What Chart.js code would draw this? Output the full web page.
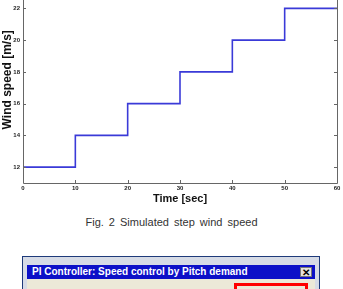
<!DOCTYPE html>
<html><head><meta charset="utf-8">
<script src="https://cdn.jsdelivr.net/npm/chart.js@4/dist/chart.umd.min.js"></script>
<style>
html,body{margin:0;padding:0;background:#fff;width:343px;height:289px;overflow:hidden;position:relative;font-family:"Liberation Sans",Arial,sans-serif;}
#wrap{position:absolute;left:0;top:-30px;width:343px;height:245px;}
#cap{position:absolute;left:0;width:343px;top:216px;text-align:center;font-size:11px;color:#333;word-spacing:2px;}
#win{position:absolute;left:22px;top:256px;width:298px;height:40px;background:#d6dbe6;border:1px solid #1e3a7a;box-sizing:border-box;}
#tb{position:absolute;left:4px;top:8px;width:288px;height:14px;background:#0c10c8;color:#fff;font:bold 10px "Liberation Sans",Arial,sans-serif;line-height:14px;padding-left:5px;box-sizing:border-box;white-space:nowrap;}
#xb{position:absolute;left:277px;top:10px;width:12px;height:10px;background:#e4e2dc;border:1px solid #777;box-sizing:border-box;font:bold 10px "Liberation Sans",Arial;line-height:9px;text-align:center;color:#000;}
#body{position:absolute;left:4px;top:22px;width:288px;height:20px;background:#ece9d8;}
#red{position:absolute;left:211px;top:26px;width:74px;height:20px;border:3px solid #f00;box-sizing:border-box;}
</style></head>
<body>
<div id="wrap"><canvas id="c"></canvas></div>
<div id="cap">Fig. 2 Simulated step wind speed</div>
<div id="win"><div id="tb">PI Controller: Speed control by Pitch demand</div><div id="xb">✕</div><div id="body"></div><div id="red"></div></div>
<script>
const times = [0, 10, 20, 30, 40, 50, 60];
const windSpeed = [12, 14, 16, 18, 20, 22, 22];
const xTicks = [0, 10, 20, 30, 40, 50, 60];
const yTicks = [12, 14, 16, 18, 20, 22];

const axisColor = '#666';
const framePlugin = {
  id: 'frame',
  afterDatasetsDraw(chart) {
    const {ctx, chartArea: a, scales} = chart;
    ctx.save();
    ctx.strokeStyle = axisColor;
    ctx.lineWidth = 1;
    ctx.beginPath();
    ctx.moveTo(a.left + 0.5, a.top); ctx.lineTo(a.left + 0.5, a.bottom + 0.5);
    ctx.lineTo(a.right + 0.5, a.bottom + 0.5); ctx.lineTo(a.right + 0.5, a.top);
    const tl = 3;
    xTicks.forEach(v => {
      const x = Math.round(scales.x.getPixelForValue(v)) + 0.5;
      ctx.moveTo(x, a.bottom); ctx.lineTo(x, a.bottom - tl);
      ctx.moveTo(x, a.top); ctx.lineTo(x, a.top + tl);
    });
    yTicks.forEach(v => {
      const y = Math.round(scales.y.getPixelForValue(v)) + 0.5;
      ctx.moveTo(a.left, y); ctx.lineTo(a.left + tl, y);
      ctx.moveTo(a.right, y); ctx.lineTo(a.right - tl, y);
    });
    ctx.stroke();
    ctx.restore();
  }
};

new Chart(document.getElementById('c'), {
  type: 'line',
  data: {
    datasets: [{
      data: times.map((t, i) => ({x: t, y: windSpeed[i]})),
      stepped: 'before',
      borderColor: '#3a3ad8',
      borderWidth: 1.6,
      pointRadius: 0,
      fill: false
    }]
  },
  options: {
    responsive: true,
    maintainAspectRatio: false,
    animation: false,
    layout: {padding: {left: 0, right: 6, top: 0, bottom: 0}},
    plugins: {legend: {display: false}, tooltip: {enabled: false}},
    scales: {
      x: {
        type: 'linear', min: 0, max: 60,
        afterBuildTicks: s => { s.ticks = xTicks.map(v => ({value: v})); },
        afterFit: s => { s.height = 32; },
        grid: {display: false, drawTicks: false},
        border: {display: false},
        ticks: {padding: 2, color: '#222', font: {family: 'Liberation Sans', size: 6, weight: 'bold'}, maxRotation: 0},
        title: {display: true, text: 'Time [sec]', color: '#111', padding: {top: 0, bottom: 9}, font: {family: 'Liberation Sans', size: 11, weight: 'bold'}}
      },
      y: {
        type: 'linear', min: 11, max: 24,
        afterBuildTicks: s => { s.ticks = yTicks.map(v => ({value: v})); },
        afterFit: s => { s.width = 23; },
        grid: {display: false, drawTicks: false},
        border: {display: false},
        ticks: {padding: 3, color: '#222', font: {family: 'Liberation Sans', size: 6, weight: 'bold'}},
        title: {display: true, text: 'Wind speed [m/s]', color: '#111', padding: {top: 0, bottom: 0}, font: {family: 'Liberation Sans', size: 12, weight: 'bold'}}
      }
    }
  },
  plugins: [framePlugin]
});
</script>
</body></html>
